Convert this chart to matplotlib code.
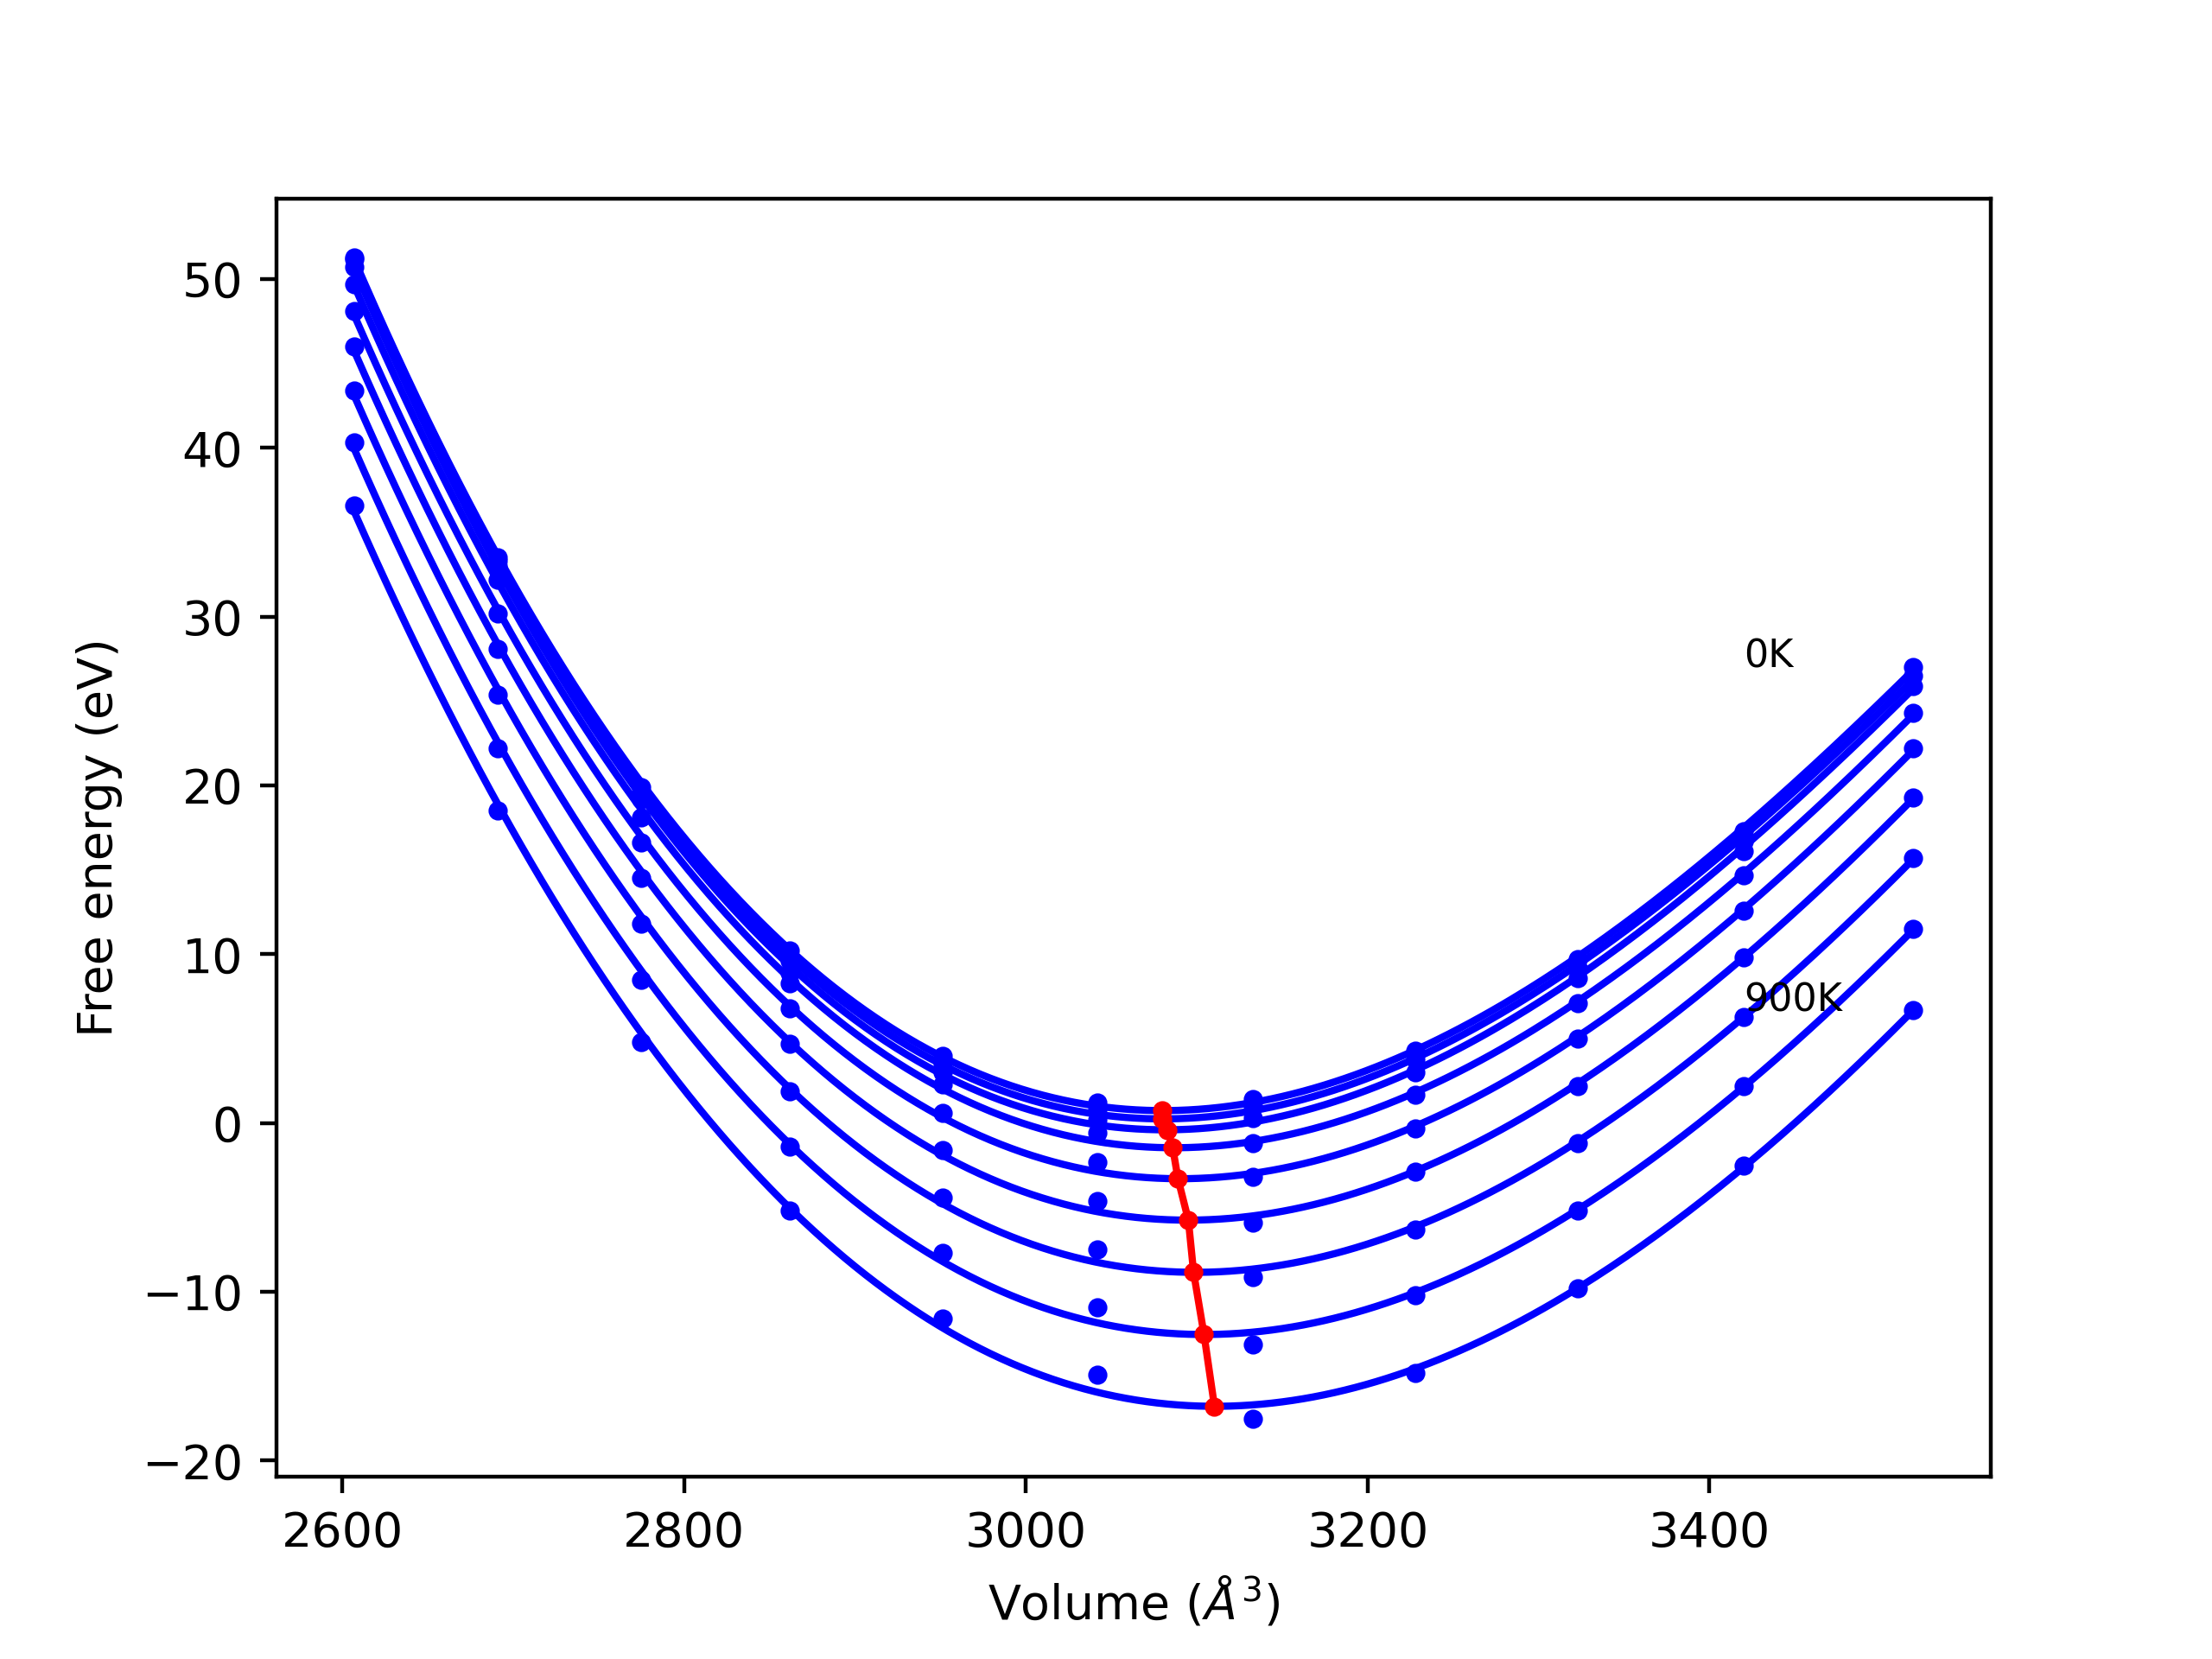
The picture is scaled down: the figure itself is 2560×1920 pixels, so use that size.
import numpy as np
import matplotlib
matplotlib.use("Agg")
import matplotlib.pyplot as plt

volumes = [2607, 2691, 2775, 2862, 2951, 3042, 3133, 3228, 3323, 3420, 3519]
energies = [
    [51.3, 33.5, 19.9, 10.2, 4.0, 1.2, 1.4, 4.3, 9.7, 17.3, 27.0],
    [51.2, 33.3, 19.6, 9.6, 3.5, 0.8, 1.0, 3.8, 9.2, 16.7, 26.5],
    [50.7, 33.0, 19.2, 8.9, 3.0, 0.2, 0.3, 3.0, 8.6, 16.1, 25.9],
    [49.7, 32.2, 18.1, 8.3, 2.3, -0.6, -1.2, 1.7, 7.1, 14.7, 24.3],
    [48.1, 30.2, 16.6, 6.8, 0.6, -2.3, -3.2, -0.3, 5.0, 12.6, 22.2],
    [46.0, 28.1, 14.5, 4.7, -1.6, -4.6, -5.9, -2.9, 2.2, 9.8, 19.3],
    [43.4, 25.4, 11.8, 1.9, -4.4, -7.5, -9.1, -6.3, -1.2, 6.3, 15.7],
    [40.3, 22.2, 8.5, -1.4, -7.7, -10.9, -13.1, -10.2, -5.2, 2.2, 11.5],
    [36.6, 18.5, 4.8, -5.2, -11.6, -14.9, -17.5, -14.8, -9.8, -2.5, 6.7],
]

fig = plt.figure(figsize=(6.4, 4.8), dpi=400)
ax = fig.add_subplot(111)
V = np.array(volumes)
vv = np.linspace(V.min(), V.max(), 300)
minv, mine = [], []
for F in energies:
    F = np.array(F)
    p = np.polyfit(V, F, 3)
    ff = np.polyval(p, vv)
    ax.plot(vv, ff, color='blue', lw=1.5)
    ax.plot(V, F, 'o', color='blue', ms=3)
    i = np.argmin(ff)
    minv.append(vv[i]); mine.append(ff[i])
ax.plot(minv, mine, '-o', color='red', lw=1.5, ms=3)
ax.text(3420, 27.0, '0K', fontsize=8)
ax.text(3420, 6.6, '900K', fontsize=8)
ax.set_xlabel(r'Volume ($\AA^3$)')
ax.set_ylabel('Free energy (eV)')
fig.savefig('out.png', dpi=400)
